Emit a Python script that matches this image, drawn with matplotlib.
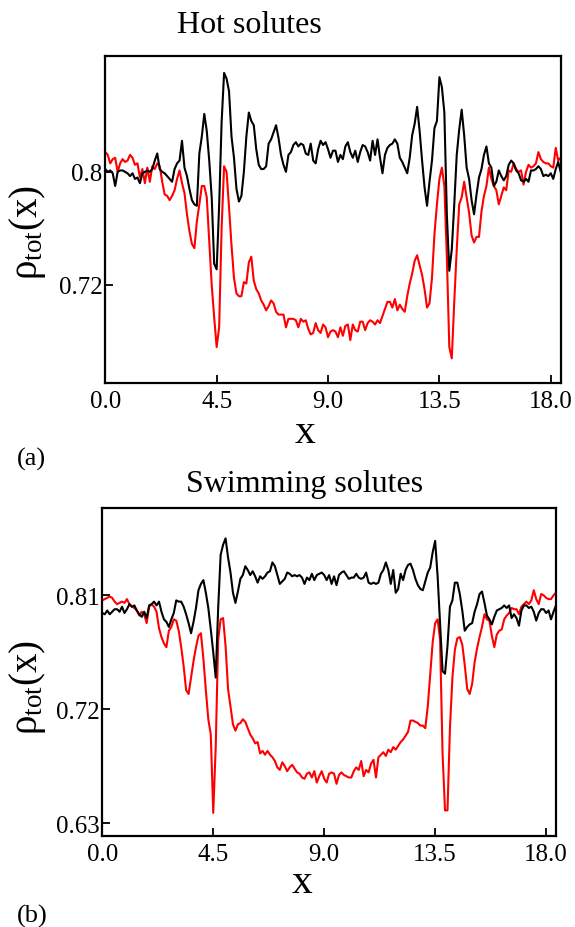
"""
Density profiles rho_tot(x) for hot and swimming solutes, two stacked panels
"""
import matplotlib as mpl
import matplotlib.pyplot as plt
import numpy as np

mpl.rcParams['font.family'] = 'Liberation Serif'
mpl.rcParams['mathtext.fontset'] = 'custom'
mpl.rcParams['mathtext.rm'] = 'Liberation Serif'
mpl.rcParams['mathtext.it'] = 'Liberation Serif:italic'

# sampled on a 0.1 grid from x = 0.0 to 18.4
x_step = 0.1

# panel (a): hot solutes
hot_black = [
    0.802, 0.800, 0.801, 0.799, 0.790, 0.800, 0.801, 0.801, 0.800, 0.799,
    0.797, 0.799, 0.795, 0.796, 0.792, 0.799, 0.800, 0.801, 0.800, 0.802,
    0.808, 0.813, 0.802, 0.800, 0.799, 0.797, 0.795, 0.793, 0.802, 0.806,
    0.808, 0.822, 0.803, 0.797, 0.788, 0.780, 0.777, 0.776, 0.813, 0.825,
    0.841, 0.829, 0.808, 0.782, 0.735, 0.731, 0.776, 0.835, 0.870, 0.866,
    0.857, 0.825, 0.810, 0.788, 0.779, 0.783, 0.800, 0.825, 0.842, 0.836,
    0.833, 0.816, 0.805, 0.802, 0.802, 0.804, 0.820, 0.823, 0.828, 0.833,
    0.824, 0.812, 0.805, 0.800, 0.812, 0.814, 0.819, 0.821, 0.818, 0.820,
    0.819, 0.813, 0.812, 0.820, 0.808, 0.806, 0.816, 0.822, 0.819, 0.821,
    0.816, 0.810, 0.815, 0.815, 0.807, 0.812, 0.809, 0.818, 0.821, 0.814,
    0.810, 0.815, 0.807, 0.814, 0.819, 0.818, 0.814, 0.808, 0.822, 0.812,
    0.823, 0.810, 0.799, 0.812, 0.817, 0.819, 0.820, 0.823, 0.820, 0.810,
    0.807, 0.803, 0.799, 0.810, 0.826, 0.834, 0.846, 0.829, 0.808, 0.789,
    0.776, 0.793, 0.808, 0.831, 0.836, 0.867, 0.860, 0.842, 0.770, 0.730,
    0.745, 0.777, 0.812, 0.830, 0.844, 0.826, 0.803, 0.795, 0.780, 0.770,
    0.784, 0.796, 0.802, 0.812, 0.818, 0.806, 0.803, 0.790, 0.793, 0.801,
    0.797, 0.794, 0.797, 0.805, 0.808, 0.806, 0.801, 0.799, 0.794, 0.793,
    0.795, 0.793, 0.801, 0.801, 0.802, 0.804, 0.802, 0.797, 0.798, 0.797,
    0.799, 0.795, 0.802, 0.807, 0.800,
]
hot_red = [
    0.814, 0.812, 0.806, 0.809, 0.810, 0.800, 0.806, 0.809, 0.807, 0.808,
    0.812, 0.810, 0.805, 0.806, 0.796, 0.802, 0.792, 0.803, 0.793, 0.804,
    0.802, 0.806, 0.804, 0.793, 0.784, 0.783, 0.780, 0.783, 0.787, 0.795,
    0.801, 0.792, 0.785, 0.770, 0.758, 0.749, 0.746, 0.765, 0.777, 0.790,
    0.790, 0.782, 0.751, 0.720, 0.697, 0.676, 0.690, 0.760, 0.804, 0.800,
    0.775, 0.748, 0.725, 0.714, 0.712, 0.712, 0.722, 0.721, 0.736, 0.740,
    0.723, 0.717, 0.714, 0.709, 0.706, 0.702, 0.705, 0.709, 0.707, 0.701,
    0.699, 0.699, 0.699, 0.690, 0.696, 0.696, 0.696, 0.695, 0.690, 0.696,
    0.694, 0.695, 0.689, 0.685, 0.686, 0.693, 0.688, 0.686, 0.692, 0.690,
    0.683, 0.687, 0.688, 0.687, 0.683, 0.690, 0.684, 0.691, 0.692, 0.681,
    0.692, 0.688, 0.687, 0.694, 0.694, 0.688, 0.693, 0.695, 0.694, 0.692,
    0.695, 0.693, 0.698, 0.703, 0.708, 0.708, 0.704, 0.710, 0.702, 0.706,
    0.703, 0.701, 0.712, 0.721, 0.728, 0.737, 0.741, 0.734, 0.727, 0.717,
    0.704, 0.707, 0.725, 0.756, 0.777, 0.795, 0.803, 0.790, 0.740, 0.676,
    0.668, 0.708, 0.745, 0.777, 0.782, 0.793, 0.782, 0.771, 0.755, 0.750,
    0.754, 0.754, 0.772, 0.783, 0.790, 0.803, 0.795, 0.790, 0.787, 0.777,
    0.783, 0.789, 0.787, 0.801, 0.800, 0.806, 0.802, 0.800, 0.801, 0.791,
    0.800, 0.805, 0.803, 0.804, 0.806, 0.814, 0.809, 0.807, 0.806, 0.806,
    0.804, 0.803, 0.817, 0.808, 0.810,
]

# panel (b): swimming solutes
swim_black = [
    0.796, 0.795, 0.798, 0.795, 0.797, 0.799, 0.799, 0.797, 0.801, 0.796,
    0.799, 0.803, 0.801, 0.802, 0.798, 0.795, 0.793, 0.797, 0.792, 0.802,
    0.803, 0.805, 0.802, 0.805, 0.797, 0.791, 0.789, 0.785, 0.791, 0.796,
    0.806, 0.805, 0.805, 0.801, 0.795, 0.788, 0.780, 0.789, 0.800, 0.814,
    0.819, 0.822, 0.812, 0.800, 0.783, 0.765, 0.745, 0.800, 0.842, 0.850,
    0.855, 0.840, 0.828, 0.812, 0.804, 0.813, 0.823, 0.826, 0.833, 0.830,
    0.826, 0.829, 0.825, 0.820, 0.825, 0.823, 0.825, 0.828, 0.829, 0.836,
    0.833, 0.826, 0.819, 0.821, 0.823, 0.828, 0.827, 0.825, 0.826, 0.825,
    0.826, 0.824, 0.819, 0.824, 0.822, 0.827, 0.822, 0.826, 0.827, 0.828,
    0.826, 0.822, 0.826, 0.819, 0.825, 0.818, 0.826, 0.828, 0.829, 0.826,
    0.823, 0.824, 0.824, 0.827, 0.824, 0.823, 0.824, 0.828, 0.820, 0.819,
    0.820, 0.819, 0.820, 0.827, 0.830, 0.836, 0.830, 0.819, 0.830, 0.812,
    0.815, 0.827, 0.822, 0.830, 0.834, 0.835, 0.830, 0.823, 0.818, 0.815,
    0.814, 0.821, 0.828, 0.832, 0.844, 0.853, 0.825, 0.788, 0.750, 0.748,
    0.770, 0.801, 0.806, 0.820, 0.820, 0.811, 0.798, 0.782, 0.785, 0.787,
    0.788, 0.797, 0.803, 0.811, 0.813, 0.804, 0.794, 0.791, 0.787, 0.793,
    0.798, 0.799, 0.800, 0.802, 0.800, 0.802, 0.792, 0.795, 0.792, 0.786,
    0.798, 0.802, 0.802, 0.800, 0.801, 0.797, 0.790, 0.796, 0.799, 0.799,
    0.796, 0.798, 0.791, 0.797, 0.802,
]
swim_red = [
    0.806, 0.807, 0.808, 0.809, 0.808, 0.805, 0.803, 0.804, 0.805, 0.804,
    0.807, 0.803, 0.801, 0.800, 0.798, 0.794, 0.797, 0.795, 0.788, 0.801,
    0.803, 0.801, 0.797, 0.784, 0.777, 0.772, 0.769, 0.782, 0.785, 0.791,
    0.790, 0.782, 0.769, 0.754, 0.735, 0.732, 0.745, 0.758, 0.769, 0.778,
    0.780, 0.760, 0.735, 0.712, 0.700, 0.638, 0.690, 0.775, 0.791, 0.792,
    0.770, 0.736, 0.722, 0.708, 0.703, 0.708, 0.709, 0.712, 0.710, 0.705,
    0.700, 0.697, 0.693, 0.694, 0.685, 0.687, 0.684, 0.687, 0.684, 0.682,
    0.679, 0.674, 0.672, 0.678, 0.675, 0.671, 0.674, 0.676, 0.673, 0.670,
    0.669, 0.666, 0.665, 0.669, 0.670, 0.666, 0.671, 0.662, 0.667, 0.671,
    0.665, 0.662, 0.669, 0.670, 0.669, 0.661, 0.668, 0.670, 0.668, 0.667,
    0.666, 0.666, 0.671, 0.674, 0.672, 0.679, 0.667, 0.672, 0.670, 0.677,
    0.680, 0.666, 0.682, 0.684, 0.686, 0.683, 0.688, 0.686, 0.690, 0.688,
    0.691, 0.694, 0.696, 0.699, 0.702, 0.711, 0.711, 0.710, 0.709, 0.707,
    0.707, 0.705, 0.722, 0.748, 0.773, 0.788, 0.791, 0.775, 0.685, 0.640,
    0.640, 0.705, 0.745, 0.767, 0.776, 0.777, 0.771, 0.755, 0.736, 0.732,
    0.740, 0.757, 0.768, 0.777, 0.785, 0.795, 0.791, 0.790, 0.778, 0.769,
    0.779, 0.782, 0.783, 0.791, 0.794, 0.796, 0.800, 0.799, 0.799, 0.795,
    0.801, 0.803, 0.805, 0.803, 0.806, 0.814, 0.807, 0.803, 0.811, 0.810,
    0.808, 0.807, 0.807, 0.810, 0.812,
]

xticks = [0.0, 4.5, 9.0, 13.5, 18.0]
xtick_labels = ['0.0', '4.5', '9.0', '13.5', '18.0']
yticks_a = [0.72, 0.8]
ytick_labels_a = ['0.72', '0.8']
yticks_b = [0.63, 0.72, 0.81]
ytick_labels_b = ['0.63', '0.72', '0.81']


def style_axis(ax, ylim, yticks, ylabels):
    ax.set_xlim(0.0, 18.4)
    ax.set_ylim(*ylim)
    ax.set_xticks(xticks, labels=xtick_labels)
    ax.set_yticks(yticks, labels=ylabels)
    ax.tick_params(direction='in', length=6, width=1.3, labelsize=18,
                   top=False, right=False)
    ax.tick_params(axis='x', pad=5)
    ax.tick_params(axis='y', pad=2)
    for sp in ax.spines.values():
        sp.set_linewidth(1.6)


fig = plt.figure(figsize=(5.75, 9.28), dpi=100)

ax_a = fig.add_axes([0.1831, 0.5862, 0.7920, 0.3524])
ax_b = fig.add_axes([0.1779, 0.0984, 0.7890, 0.3531])

for ax, black, red in [(ax_a, hot_black, hot_red), (ax_b, swim_black, swim_red)]:
    x = np.arange(len(black)) * x_step
    ax.plot(x, red, color='#ff0000', lw=1.5)
    ax.plot(x, black, color='black', lw=1.5)

style_axis(ax_a, (0.6506, 0.882), yticks_a, ytick_labels_a)
style_axis(ax_b, (0.620, 0.879), yticks_b, ytick_labels_b)

# x labels, panel titles and tags
ax_a.text(0.4385, -0.180, 'x', transform=ax_a.transAxes, fontsize=30,
          ha='center', va='baseline')
ax_b.text(0.440, -0.172, 'x', transform=ax_b.transAxes, fontsize=30,
          ha='center', va='baseline')

ylab = r'$\mathrm{\rho_{tot}(x)}$'
fig.text(0.048, 0.749, ylab, rotation=90, fontsize=28, ha='center', va='center')
fig.text(0.048, 0.2597, ylab, rotation=90, fontsize=28, ha='center', va='center')

fig.text(0.433, 0.9644, 'Hot solutes', fontsize=23, ha='center', va='baseline')
fig.text(0.529, 0.4698, 'Swimming solutes', fontsize=23, ha='center', va='baseline')

fig.text(0.029, 0.498, '(a)', fontsize=19, ha='left', va='baseline')
fig.text(0.030, 0.0060, '(b)', fontsize=19, ha='left', va='baseline')

fig.savefig('out.png', dpi=100)
plt.close('all')
